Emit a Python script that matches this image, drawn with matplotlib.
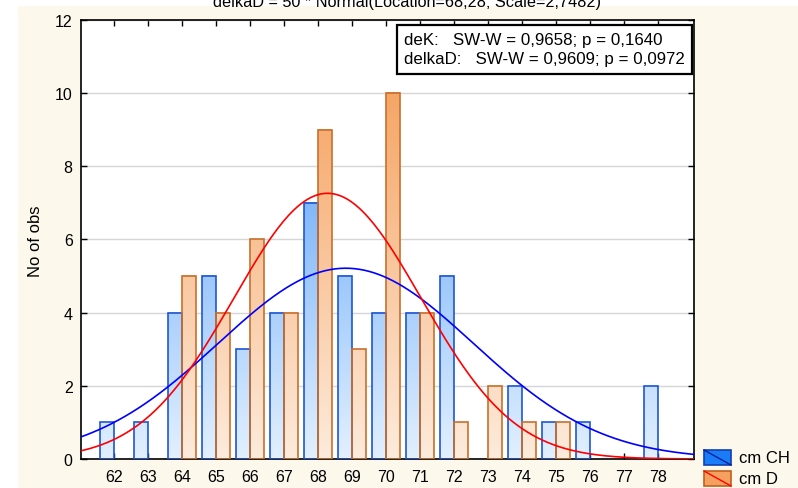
import numpy as np
import matplotlib
matplotlib.use("Agg")
import matplotlib.pyplot as plt
from matplotlib.colors import LinearSegmentedColormap, Normalize
from matplotlib.patches import Rectangle
from matplotlib.lines import Line2D

plt.rcParams['font.family'] = ['Liberation Sans', 'DejaVu Sans']

# Class midpoints (cm) and counts per class
classes = [62, 63, 64, 65, 66, 67, 68, 69, 70, 71, 72, 73, 74, 75, 76, 77, 78]
counts_ch = [1, 1, 4, 5, 3, 4, 7, 5, 4, 4, 5, 0, 2, 1, 1, 0, 2]
counts_d = [0, 0, 5, 4, 6, 4, 9, 3, 10, 4, 1, 2, 1, 1, 0, 0, 0]
series_names = ["cm CH", "cm D"]
sw_lines = ["deK:   SW-W = 0,9658; p = 0,1640",
            "delkaD:   SW-W = 0,9609; p = 0,0972"]
title_text = "delkaD = 50 * Normal(Location=68,28; Scale=2,7482)"

x = np.array(classes, dtype=float)
ch = np.array(counts_ch, dtype=float)
d = np.array(counts_d, dtype=float)

W, H = 798, 489
fig = plt.figure(figsize=(W / 100, H / 100), dpi=100, facecolor="white")


def fx(px):
    return px / W


def fy(py):
    return 1 - py / H


# cream panel behind the plot
fig.patches.append(Rectangle((fx(18), 0), 1 - fx(18), fy(7),
                             transform=fig.transFigure, facecolor="#fdf8ec",
                             edgecolor="none", zorder=-10))

ax = fig.add_axes([fx(81), fy(460), fx(694 - 81), (460 - 20.7) / H])
ax.set_facecolor("white")

blue_cmap = LinearSegmentedColormap.from_list("bl", ["#e2f0ff", "#3c90f6"])
orange_cmap = LinearSegmentedColormap.from_list("or", ["#fdebdc", "#f4984f"])
norm = Normalize(0, 12)
bw = 0.4


def gradient_bars(xs, hs, x_off, cmap, edge):
    for xc, h in zip(xs, hs):
        if h <= 0:
            continue
        x0 = xc + x_off
        grad = np.linspace(0, h, 128).reshape(-1, 1)
        ax.imshow(grad, extent=[x0, x0 + bw, 0, h], origin="lower",
                  cmap=cmap, norm=norm, aspect="auto", zorder=2,
                  interpolation="bilinear")
        ax.add_patch(Rectangle((x0, 0), bw, h, facecolor="none",
                               edgecolor=edge, linewidth=1.2, zorder=3))


gradient_bars(x, ch, -bw, blue_cmap, "#1f55d6")
gradient_bars(x, d, 0.0, orange_cmap, "#c8702c")

# fitted normal curves scaled to counts (bin width 1)
xx = np.linspace(60.5, 79.5, 400)


def normal_curve(vals, cnt):
    n = cnt.sum()
    m = (vals * cnt).sum() / n
    s = np.sqrt(((vals - m) ** 2 * cnt).sum() / (n - 1))
    return n / (s * np.sqrt(2 * np.pi)) * np.exp(-0.5 * ((xx - m) / s) ** 2)


ax.plot(xx, normal_curve(x, ch), color="#0000ff", lw=1.2, zorder=4)
ax.plot(xx, normal_curve(x, d), color="#ff0000", lw=1.2, zorder=4)

ax.set_xlim(62 - 33 / 34, 78 + 36 / 34)
ax.set_ylim(0, 12)
ax.set_xticks(classes)
ax.set_xticklabels([str(c) for c in classes])
ax.set_yticks(np.arange(0, 13, 2))
ax.yaxis.grid(True, color="#d6d6d6", lw=1.0, zorder=0)
ax.set_axisbelow(True)
ax.tick_params(direction="in", top=True, right=True, length=4, width=1,
               labelsize=11.5, colors="black")
ax.tick_params(axis="x", pad=7)
ax.tick_params(axis="y", pad=6)
for sp in ax.spines.values():
    sp.set_linewidth(1.2)
    sp.set_color("black")

fig.text(fx(35), fy(241), "No of obs", rotation=90, ha="center",
         va="center", fontsize=12)

# Shapiro-Wilk annotation box
fig.patches.append(Rectangle((fx(397), fy(75)), fx(692 - 397), 49 / H,
                             transform=fig.transFigure, facecolor="white",
                             edgecolor="black", linewidth=1.6, zorder=6))
for i, line in enumerate(sw_lines):
    fig.text(fx(404), fy(41 + 18.5 * i), line, ha="left", va="center",
             fontsize=12.2, zorder=7)

# clipped title at top edge
fig.text(fx(213), fy(7), title_text, ha="left", va="baseline",
         fontsize=11.7, color="black")


# legend outside bottom-right
def legend_item(px, py, face, edge, line_c, label):
    rect = Rectangle((fx(px), fy(py + 15)), 27 / W, 15 / H,
                     transform=fig.transFigure, facecolor=face,
                     edgecolor=edge, linewidth=1.2)
    fig.patches.append(rect)
    fig.lines.append(Line2D([fx(px), fx(px + 27)], [fy(py), fy(py + 15)],
                            transform=fig.transFigure, color=line_c, lw=1.0))
    fig.text(fx(px + 35), fy(py + 8), label, ha="left",
             va="center", fontsize=12)


legend_item(704, 451, "#1a7cf6", "#1040b0", "#0020a0", series_names[0])
legend_item(704, 472, "#f6a060", "#c06020", "#ff0000", series_names[1])

fig.savefig("out.png", dpi=100, facecolor=fig.get_facecolor())
